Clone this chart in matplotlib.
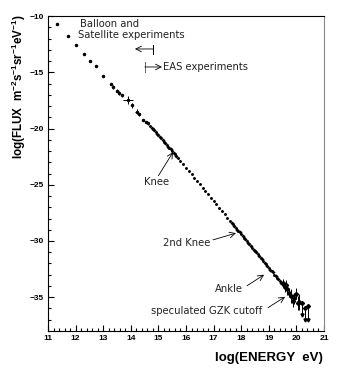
import numpy as np
import matplotlib
matplotlib.use("Agg")
import matplotlib.pyplot as plt
from matplotlib.ticker import MultipleLocator

plt.rcParams['mathtext.fontset'] = 'custom'
plt.rcParams['mathtext.rm'] = 'Liberation Sans:bold'
plt.rcParams['mathtext.default'] = 'rm'

# balloon / satellite points (sparse, low energy)
balloon_x = [11.31, 11.74, 12.03, 12.30, 12.52, 12.73, 13.00, 13.27, 13.36, 13.49,
             13.58, 13.67, 13.90, 14.05, 14.21, 14.30, 14.45, 14.55, 14.63]
balloon_y = [-10.74, -11.75, -12.58, -13.37, -14.03, -14.47, -15.30, -16.07, -16.30, -16.63,
             -16.85, -17.05, -17.50, -17.95, -18.50, -18.75, -19.24, -19.45, -19.55]
balloon_yerr = [0, 0, 0, 0, 0, 0, 0, 0, 0.15, 0.12,
                0.15, 0.12, 0.35, 0.25, 0.2, 0.15, 0.1, 0.1, 0.1]
balloon_xerr = [0, 0, 0, 0, 0, 0, 0, 0, 0, 0,
                0, 0, 0.18, 0, 0.05, 0, 0, 0, 0]

# air shower points (dense part of the spectrum)
eas_x = [14.70, 14.80, 14.90, 15.00, 15.10, 15.20, 15.30, 15.40, 15.50, 15.60,
         15.70, 15.80, 15.90, 16.00, 16.10, 16.20, 16.30, 16.40, 16.50, 16.60,
         16.70, 16.80, 16.90, 17.00, 17.10, 17.20, 17.30, 17.40, 17.50, 17.60,
         17.70, 17.80, 17.90, 18.00, 18.10, 18.20, 18.30, 18.40, 18.50, 18.60,
         18.70, 18.80, 18.90, 19.00, 19.10, 19.20, 19.30, 19.40, 19.50]
eas_y = [-19.74, -20.03, -20.31, -20.59, -20.88, -21.16, -21.45, -21.73, -22.01, -22.30,
         -22.58, -22.88, -23.17, -23.47, -23.77, -24.07, -24.36, -24.66, -24.96, -25.25,
         -25.55, -25.85, -26.14, -26.44, -26.74, -27.04, -27.33, -27.63, -27.93, -28.22,
         -28.52, -28.82, -29.11, -29.41, -29.71, -30.01, -30.30, -30.60, -30.90, -31.19,
         -31.49, -31.79, -32.08, -32.38, -32.68, -32.98, -33.27, -33.57, -33.87]

# extra overlapping points that make the band look thick
extra_x = [14.75, 14.85, 14.95, 15.05, 15.15, 15.25, 15.35, 15.45, 15.55, 15.65,
           17.65, 17.75, 17.85, 17.95, 18.05, 18.15, 18.25, 18.35, 18.45, 18.55,
           18.65, 18.75, 18.85, 18.95, 19.05, 19.15, 19.25, 19.35, 19.45]
extra_y = [-19.92, -20.15, -20.47, -20.72, -21.04, -21.28, -21.62, -21.85, -22.18, -22.42,
           -28.40, -28.64, -28.99, -29.23, -29.58, -29.83, -30.18, -30.42, -30.77, -31.01,
           -31.37, -31.60, -31.95, -32.20, -32.55, -32.80, -33.15, -33.38, -33.74]

# highest energies, with error bars
gzk_x = [19.52, 19.58, 19.62, 19.66, 19.72, 19.80, 19.86, 19.92, 19.98, 20.04, 20.10]
gzk_y = [-33.7, -34.1, -33.9, -34.3, -34.6, -34.9, -35.3, -35.1, -34.7, -35.5, -35.4]
gzk_yerr = [0.3, 0.4, 0.4, 0.5, 0.4, 0.6, 0.6, 0.5, 0.5, 0.6, 0.7]

# upper limits (downward arrows)
lim_x = [20.22, 20.32, 20.42]
lim_y = [-35.5, -36.0, -35.8]
lim_len = [1.1, 1.0, 1.2]

fig = plt.figure(figsize=(3.38, 3.69), dpi=100)
ax = fig.add_axes([0.142, 0.103, 0.8166, 0.8536])

ax.errorbar(balloon_x, balloon_y, xerr=balloon_xerr, yerr=balloon_yerr, fmt='o',
            ms=1.5, color='black', elinewidth=0.7, capsize=0)
ax.plot(eas_x, eas_y, 'o', ms=2.1, color='black', mew=0)
ax.plot(extra_x, extra_y, 'D', ms=2.1, color='black', mew=0)
ax.errorbar(gzk_x, gzk_y, yerr=gzk_yerr, fmt='D', ms=2.1, color='black',
            elinewidth=0.7, capsize=0)
ax.errorbar(lim_x, lim_y, yerr=[lim_len, [0] * len(lim_len)], fmt='D', ms=2.0,
            color='black', elinewidth=0.7, capsize=0)
ax.plot(lim_x, np.array(lim_y) - np.array(lim_len), 'v', ms=2.2, color='black')

ax.set_xlim(11, 21)
ax.set_ylim(-38, -10)
ax.xaxis.set_major_locator(MultipleLocator(1))
ax.xaxis.set_minor_locator(MultipleLocator(0.2))
ax.yaxis.set_major_locator(MultipleLocator(5))
ax.yaxis.set_minor_locator(MultipleLocator(1))
ax.tick_params(which='both', direction='in', top=False, right=False, width=0.8)
ax.tick_params(which='major', length=4.5)
ax.tick_params(which='minor', length=2.2)
ax.tick_params(axis='x', pad=3)
ax.tick_params(axis='y', pad=3)
for lab in ax.get_xticklabels() + ax.get_yticklabels():
    lab.set_fontfamily('Liberation Sans')
    lab.set_fontweight('bold')
    lab.set_fontsize(6)

ax.spines['right'].set_color('#888888')
ax.spines['right'].set_linestyle((0, (1, 1)))
ax.spines['top'].set_linewidth(0.8)

fig.text(323 / 338, 1 - 358 / 369, 'log(ENERGY  eV)', ha='right', va='center',
         fontfamily='Liberation Sans', fontweight='bold', fontsize=9.5)
fig.text(19 / 338, 1 - 14 / 369,
         r'log(FLUX  m$^{-2}$s$^{-1}$sr$^{-1}$eV$^{-1}$)', rotation=90,
         ha='center', va='top', fontfamily='Liberation Sans', fontweight='bold',
         fontsize=8.4)

tk = dict(fontfamily='DejaVu Sans', fontsize=7.2, color='#222222')
arr = dict(arrowstyle='->', lw=0.6, color='black', shrinkA=0, shrinkB=0)
ax.text(12.16, -10.72, 'Balloon and', va='center', **tk)
ax.text(12.09, -11.69, 'Satellite experiments', va='center', **tk)
ax.annotate('', xy=(14.15, -12.93), xytext=(14.80, -12.93), arrowprops=arr)
ax.plot([14.80, 14.80], [-12.55, -13.35], color='black', lw=0.7)
ax.annotate('', xy=(15.13, -14.53), xytext=(14.51, -14.53), arrowprops=arr)
ax.plot([14.51, 14.51], [-14.1, -15.0], color='#666666', lw=0.7)
ax.text(15.17, -14.55, 'EAS experiments', va='center', **tk)

ax.text(14.95, -24.75, 'Knee', ha='center', va='center', **tk)
ax.annotate('', xy=(15.53, -22.1), xytext=(15.0, -24.2), arrowprops=arr)
ax.text(15.17, -30.16, '2nd Knee', va='center', **tk)
ax.annotate('', xy=(17.81, -29.3), xytext=(16.98, -29.9), arrowprops=arr)
ax.text(17.05, -34.25, 'Ankle', va='center', **tk)
ax.annotate('', xy=(18.83, -33.0), xytext=(18.21, -33.98), arrowprops=arr)
ax.text(14.73, -36.2, 'speculated GZK cutoff', va='center', **tk)
ax.annotate('', xy=(19.59, -34.96), xytext=(18.97, -35.93), arrowprops=arr)

fig.savefig('out.png', dpi=100)
